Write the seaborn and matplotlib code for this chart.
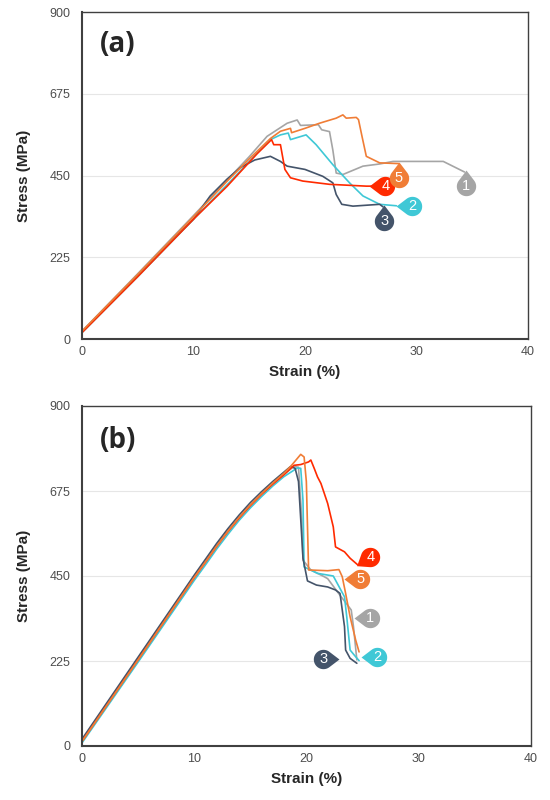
import matplotlib
matplotlib.use("Agg")
import matplotlib.pyplot as plt
import numpy as np
import pandas as pd
import seaborn as sns
from matplotlib.markers import MarkerStyle
from matplotlib.path import Path

# ---- panel (a) ----
a1_strain = [0, 5, 10, 13, 15, 16.6, 18.4, 19.3, 19.6, 21.2, 21.5, 22.2, 22.5, 22.8, 23.4, 25.2, 26.7, 27.9, 32.4, 34.3]
a1_stress = [22, 180, 340, 437, 502, 558, 594, 603, 588, 590, 576, 571, 520, 457, 453, 476, 482, 489, 489, 460]
a2_strain = [0, 5, 10, 13.5, 15.5, 16.9, 17.8, 18.5, 18.7, 20.1, 21.0, 22.5, 24.0, 25.2, 26.7, 28.2]
a2_stress = [18, 172, 330, 440, 505, 549, 562, 567, 549, 562, 535, 480, 430, 394, 371, 367]
a3_strain = [0, 5, 9, 10, 11.5, 13, 14.2, 15.5, 16.9, 17.8, 18.4, 20.0, 21.6, 22.5, 22.8, 23.3, 24.3, 26.7, 27.0]
a3_stress = [20, 176, 300, 330, 394, 440, 472, 493, 503, 489, 476, 467, 448, 430, 398, 371, 366, 371, 364]
a4_strain = [0, 5, 10, 13, 15.7, 17.0, 17.2, 17.8, 18.2, 18.7, 19.8, 22.2, 25.5, 26.0]
a4_stress = [18, 172, 330, 420, 510, 549, 535, 535, 467, 444, 435, 426, 421, 421]
a5_strain = [0, 5, 10, 13, 15, 16.9, 17.8, 18.7, 18.8, 20.0, 21.3, 22.8, 23.4, 23.7, 24.6, 24.8, 25.1, 25.5, 26.7, 28.4]
a5_stress = [22, 178, 337, 434, 496, 552, 572, 580, 568, 580, 594, 608, 617, 608, 610, 604, 560, 503, 485, 483]

# ---- panel (b) ----
b1_strain = [0, 5, 10, 11, 12, 13, 14, 15, 16, 17, 18, 18.9, 19.3, 19.6, 19.7, 20.4, 21.6, 21.9, 23.0, 23.8, 24.0, 24.2, 24.5]
b1_stress = [14, 230, 447, 488, 530, 568, 604, 637, 667, 694, 719, 740, 738, 600, 492, 466, 448, 443, 399, 368, 360, 316, 228]
b2_strain = [0, 5, 10, 11, 12, 13, 14, 15, 16, 17, 18, 19.2, 19.5, 19.7, 19.8, 21.0, 22.4, 23.4, 23.6, 23.9, 24.4, 24.7]
b2_stress = [8, 222, 438, 479, 521, 560, 597, 630, 660, 688, 713, 736, 735, 650, 474, 457, 450, 395, 342, 254, 236, 226]
b3_strain = [0, 5, 10, 11, 12, 13, 14, 15, 16, 17, 18, 18.6, 19.0, 19.3, 19.5, 19.7, 20.1, 20.9, 21.9, 22.6, 23.0, 23.2, 23.4, 23.5, 23.9, 24.5]
b3_stress = [18, 235, 452, 494, 536, 575, 611, 644, 673, 700, 725, 740, 735, 700, 600, 497, 437, 426, 421, 413, 404, 360, 316, 254, 232, 219]
b4_strain = [0, 5, 10, 11, 12, 13, 14, 15, 16, 17, 18, 18.9, 19.5, 20.2, 20.4, 20.7, 21.0, 21.3, 21.9, 22.4, 22.6, 23.4, 23.9, 24.6]
b4_stress = [12, 228, 445, 486, 528, 567, 603, 636, 666, 693, 718, 743, 745, 752, 757, 735, 712, 695, 642, 580, 527, 514, 497, 479]
b5_strain = [0, 5, 10, 11, 12, 13, 14, 15, 16, 17, 18, 18.6, 19.5, 19.8, 20.0, 20.2, 21.9, 22.9, 23.0, 23.2, 23.5, 23.9, 24.4, 24.7]
b5_stress = [12, 228, 446, 487, 529, 568, 605, 638, 668, 696, 722, 740, 772, 765, 700, 466, 464, 467, 461, 448, 404, 342, 280, 249]

specimens = ["1", "2", "3", "4", "5"]
colors = ["#A5A5A5", "#3FC8D6", "#44546A", "#FF2A00", "#F07D36"]

# numbered callouts: centre (strain, stress) and pointer angle
a_tag_x = [34.4, 29.6, 27.1, 27.2, 28.4]
a_tag_y = [421, 366, 325, 421, 444]
a_tag_dir = [90, 180, 90, 180, 90]
b_tag_x = [25.7, 26.3, 21.5, 25.7, 24.8]
b_tag_y = [340, 235, 231, 499, 442]
b_tag_dir = [180, 180, 0, 213, 180]

stress_ticks = [0, 225, 450, 675, 900]
strain_ticks = [0, 10, 20, 30, 40]


def teardrop(angle):
    d = 1.65
    half = np.degrees(np.arccos(1 / d))
    th = np.radians(np.linspace(angle + half, angle + 360 - half, 48))
    arc = np.column_stack([np.cos(th), np.sin(th)])
    tip = d * np.array([np.cos(np.radians(angle)), np.sin(np.radians(angle))])
    verts = np.vstack([[d, d], tip, arc, tip])
    codes = [Path.MOVETO, Path.MOVETO] + [Path.LINETO] * len(arc) + [Path.CLOSEPOLY]
    return MarkerStyle(Path(verts, codes))


def to_frame(strains, stresses):
    rows = []
    for name, xs, ys in zip(specimens, strains, stresses):
        rows += [{"specimen": name, "strain": x, "stress": y} for x, y in zip(xs, ys)]
    return pd.DataFrame(rows)


def draw_panel(ax, df, tag_x, tag_y, tag_dir, letter):
    sns.lineplot(data=df, x="strain", y="stress", hue="specimen", palette=colors,
                 sort=False, estimator=None, lw=1.2, legend=False, ax=ax)
    for tx, ty, td, c, name in zip(tag_x, tag_y, tag_dir, colors, specimens):
        ax.plot(tx, ty, ls="none", marker=teardrop(td), ms=23, mew=0, color=c, zorder=5)
        ax.text(tx, ty, name, color="white", fontsize=10.5, ha="center", va="center",
                family="Liberation Sans", zorder=6)
    ax.set_xlim(0, 40)
    ax.set_ylim(0, 900)
    ax.set_xticks(strain_ticks)
    ax.set_yticks(stress_ticks)
    ax.grid(False)
    for v in stress_ticks[1:-1]:
        ax.axhline(v, color="#E6E6E6", lw=0.8, zorder=0)
    ax.tick_params(length=0, labelsize=9, labelcolor="#4D4D4D")
    ax.tick_params(axis="y", pad=8.5)
    ax.tick_params(axis="x", pad=5)
    for lab in ax.get_xticklabels() + ax.get_yticklabels():
        lab.set_family("Liberation Sans")
    for side in ["top", "right", "left", "bottom"]:
        ax.spines[side].set_visible(True)
        ax.spines[side].set_color("#404040")
        ax.spines[side].set_linewidth(1.5 if side in ("left", "bottom") else 1.0)
    ax.set_xlabel("Strain (%)", fontsize=11, fontweight="bold", family="Liberation Sans", labelpad=5)
    ax.set_ylabel("Stress (MPa)", fontsize=11, fontweight="bold", family="Liberation Sans", labelpad=13)
    ax.text(0.04, 0.9, letter, transform=ax.transAxes, fontsize=20, fontweight="bold",
            family="Open Sans", va="center", ha="left")


sns.set_theme(style="white")
plt.rcParams["font.family"] = ["Liberation Sans", "DejaVu Sans"]

fig = plt.figure(figsize=(5.5, 8), dpi=100)
ax_a = fig.add_axes([0.149, 0.576, 0.811, 0.409])
ax_b = fig.add_axes([0.149, 0.0675, 0.816, 0.425])

draw_panel(ax_a, to_frame([a1_strain, a2_strain, a3_strain, a4_strain, a5_strain],
                          [a1_stress, a2_stress, a3_stress, a4_stress, a5_stress]),
           a_tag_x, a_tag_y, a_tag_dir, "(a)")
draw_panel(ax_b, to_frame([b1_strain, b2_strain, b3_strain, b4_strain, b5_strain],
                          [b1_stress, b2_stress, b3_stress, b4_stress, b5_stress]),
           b_tag_x, b_tag_y, b_tag_dir, "(b)")

fig.savefig("out.png", dpi=100)
